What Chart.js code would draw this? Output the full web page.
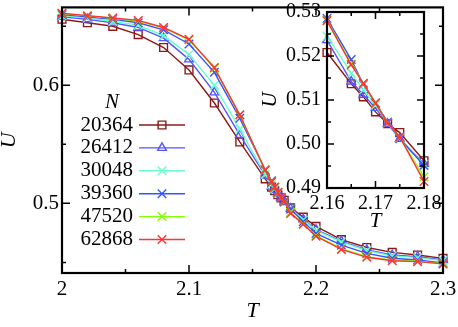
<!DOCTYPE html>
<html>
<head>
<meta charset="utf-8">
<script src="https://cdn.jsdelivr.net/npm/chart.js@4.4.1/dist/chart.umd.min.js"></script>
<style>
  body { margin:0; background:#fff; }
  #wrap { position:relative; width:458px; height:327px; }
  #main { position:absolute; left:0; top:0; }
  #inset { position:absolute; left:255px; top:0; }
</style>
</head>
<body>
<div id="wrap">
  <canvas id="main" width="458" height="327"></canvas>
  <canvas id="inset" width="195" height="240"></canvas>
</div>
<script>
// temperatures
const tVals = [2.0, 2.02, 2.04, 2.06, 2.08, 2.1, 2.12, 2.14, 2.16, 2.165, 2.1675, 2.17, 2.1725, 2.175, 2.18,
  2.19, 2.2, 2.22, 2.24, 2.26, 2.28, 2.3];

// U(T) for each N
const u20364 = [0.656, 0.653, 0.650, 0.643, 0.632, 0.613, 0.585, 0.552, 0.5208, 0.5137, 0.5107, 0.5073, 0.5046, 0.5026, 0.4962,
  0.4883, 0.4805, 0.4693, 0.4626, 0.4585, 0.4562, 0.4534];
const u26412 = [0.658, 0.656, 0.653, 0.649, 0.640, 0.622, 0.594, 0.558, 0.5236, 0.5142, 0.5112, 0.5082, 0.5046, 0.5012, 0.4955,
  0.4865, 0.4777, 0.4680, 0.4606, 0.4562, 0.4548, 0.4520];
const u30048 = [0.659, 0.657, 0.654, 0.651, 0.642, 0.626, 0.600, 0.563, 0.5245, 0.5161, 0.5123, 0.5088, 0.5048, 0.5013, 0.4953,
  0.4860, 0.4770, 0.4673, 0.4600, 0.4555, 0.4540, 0.4515];
const u39360 = [0.660, 0.658, 0.656, 0.653, 0.647, 0.635, 0.611, 0.572, 0.5285, 0.5192, 0.5135, 0.5093, 0.5050, 0.5012, 0.4951,
  0.4845, 0.4745, 0.4646, 0.4576, 0.4535, 0.4520, 0.4495];
const u47520 = [0.6608, 0.6588, 0.6568, 0.6545, 0.6487, 0.6385, 0.6145, 0.5748, 0.5281, 0.5182, 0.5137, 0.5093, 0.5048, 0.5015, 0.4925,
  0.4826, 0.4727, 0.4616, 0.4549, 0.4518, 0.4509, 0.4489];
const u62868 = [0.661, 0.659, 0.657, 0.655, 0.649, 0.639, 0.615, 0.575, 0.528, 0.518, 0.5138, 0.5093, 0.5048, 0.5016, 0.4915,
  0.4822, 0.4721, 0.4610, 0.4543, 0.4514, 0.4506, 0.4487];

const sizeLabels = ["20364", "26412", "30048", "39360", "47520", "62868"];
const sizeValues = [u20364, u26412, u30048, u39360, u47520, u62868];
const colors = ["#8b1a1a", "#5555ff", "#66ffcc", "#3355ff", "#7fff00", "#ff3333"];
const markers = ["rect", "triangle", "crossRot", "crossRot", "crossRot", "crossRot"];
const markerSize = [5.5, 5, 6, 6, 6, 6];

// axes
const mainXTicks = [2, 2.1, 2.2, 2.3];
const mainXMinor = [2.05, 2.15, 2.25];
const mainYTicks = [0.5, 0.6];
const mainYMinor = [0.45, 0.55, 0.65];
const insetXTicks = [2.16, 2.17, 2.18];
const insetXMinor = [2.165, 2.175];
const insetYTicks = [0.49, 0.50, 0.51, 0.52, 0.53];
const insetYMinor = [0.495, 0.505, 0.515, 0.525];

const serif = "'Liberation Serif', 'DejaVu Serif', serif";

function makeSets(lo, hi) {
  return sizeLabels.map((lab, i) => ({
    label: lab,
    data: tVals.map((t, j) => ({ x: t, y: sizeValues[i][j] })).filter(p => p.x >= lo - 1e-9 && p.x <= hi + 1e-9),
    borderColor: colors[i],
    backgroundColor: "rgba(0,0,0,0)",
    pointBorderColor: colors[i],
    pointBackgroundColor: "rgba(0,0,0,0)",
    pointStyle: markers[i],
    pointRadius: markerSize[i],
    pointBorderWidth: 1.4,
    borderWidth: 1.4,
    tension: 0,
    clip: false,
    order: sizeLabels.length - i
  }));
}

function framePlugin(minX, minY, majLen, minLen) {
  return {
    id: "frame",
    afterDatasetsDraw(chart) {
      const { ctx, chartArea: a, scales } = chart;
      ctx.save();
      ctx.strokeStyle = "#000";
      ctx.lineWidth = 1.5;
      const tx = (v, len) => {
        const p = scales.x.getPixelForValue(v);
        ctx.beginPath();
        ctx.moveTo(p, a.bottom); ctx.lineTo(p, a.bottom - len);
        ctx.moveTo(p, a.top); ctx.lineTo(p, a.top + len);
        ctx.stroke();
      };
      const ty = (v, len) => {
        const p = scales.y.getPixelForValue(v);
        ctx.beginPath();
        ctx.moveTo(a.left, p); ctx.lineTo(a.left + len, p);
        ctx.moveTo(a.right, p); ctx.lineTo(a.right - len, p);
        ctx.stroke();
      };
      scales.x.ticks.forEach(t => tx(t.value, majLen));
      minX.forEach(v => tx(v, minLen));
      scales.y.ticks.forEach(t => ty(t.value, majLen));
      minY.forEach(v => ty(v, minLen));
      ctx.lineWidth = 2.2;
      ctx.strokeRect(a.left, a.top, a.right - a.left, a.bottom - a.top);
      ctx.restore();
    }
  };
}

const legendPlugin = {
  id: "sizeLegend",
  afterDatasetsDraw(chart) {
    const ctx = chart.ctx;
    ctx.save();
    ctx.fillStyle = "#000";
    ctx.font = "italic 21px " + serif;
    ctx.textAlign = "center";
    ctx.textBaseline = "middle";
    ctx.fillText("N", 112, 102);
    ctx.font = "21px " + serif;
    ctx.textAlign = "right";
    sizeLabels.forEach((lab, i) => {
      const y = 125 + i * 22.9;
      ctx.fillStyle = "#000";
      ctx.fillText(lab, 133, y);
      ctx.strokeStyle = colors[i];
      ctx.lineWidth = 1.4;
      ctx.beginPath();
      ctx.moveTo(139, y); ctx.lineTo(185, y);
      ctx.stroke();
      ctx.fillStyle = "rgba(0,0,0,0)";
      Chart.helpers.drawPoint(ctx, { pointStyle: markers[i], radius: markerSize[i], rotation: 0, borderWidth: 1.4 }, 162, y);
    });
    ctx.restore();
  }
};

function axisOpts(min, max, ticks, size, title, fmt, fitFn, pad, titlePad, titleLH) {
  return {
    type: "linear", min, max,
    afterBuildTicks: s => { s.ticks = ticks.map(v => ({ value: v })); },
    afterFit: s => {
      fitFn(s);
      s.paddingTop = 0; s.paddingBottom = 0; s.paddingLeft = 0; s.paddingRight = 0;
    },
    grid: { display: false, drawTicks: false },
    border: { display: false },
    ticks: { padding: pad, color: "#000", font: { family: serif, size }, callback: fmt },
    title: { display: true, text: title, color: "#000", padding: titlePad,
      font: { family: serif, size: size + 1, style: "italic", lineHeight: titleLH } }
  };
}

new Chart(document.getElementById("main"), {
  type: "line",
  data: { datasets: makeSets(2.0, 2.3) },
  options: {
    responsive: false, animation: false,
    layout: { padding: { top: 5, right: 15, left: 0, bottom: 0 } },
    plugins: { legend: { display: false }, tooltip: { enabled: false } },
    scales: {
      x: axisOpts(2.0, 2.3, mainXTicks, 21, "T", v => String(v), s => { s.height = 54; }, 4, { top: 0, bottom: 3 }, 1.2),
      y: axisOpts(0.441, 0.666, mainYTicks, 21, "U", v => String(v), s => { s.width = 62; }, 3, { top: 0, bottom: 6 }, 0.8)
    }
  },
  plugins: [framePlugin(mainXMinor, mainYMinor, 8, 4), legendPlugin]
});

new Chart(document.getElementById("inset"), {
  type: "line",
  data: { datasets: makeSets(2.16, 2.18) },
  options: {
    responsive: false, animation: false,
    layout: { padding: { top: 12, right: 26, left: 0, bottom: 0 } },
    plugins: { legend: { display: false }, tooltip: { enabled: false } },
    scales: {
      x: axisOpts(2.16, 2.18, insetXTicks, 20, "T", v => v.toFixed(2), s => { s.height = 52; }, 4, { top: 0, bottom: 6 }, 1.2),
      y: axisOpts(0.49, 0.53, insetYTicks, 20, "U", v => v.toFixed(2), s => { s.width = 72; }, 6, { top: 5, bottom: 5 }, 1)
    }
  },
  plugins: [framePlugin(insetXMinor, insetYMinor, 7, 4)]
});
</script>
</body>
</html>
